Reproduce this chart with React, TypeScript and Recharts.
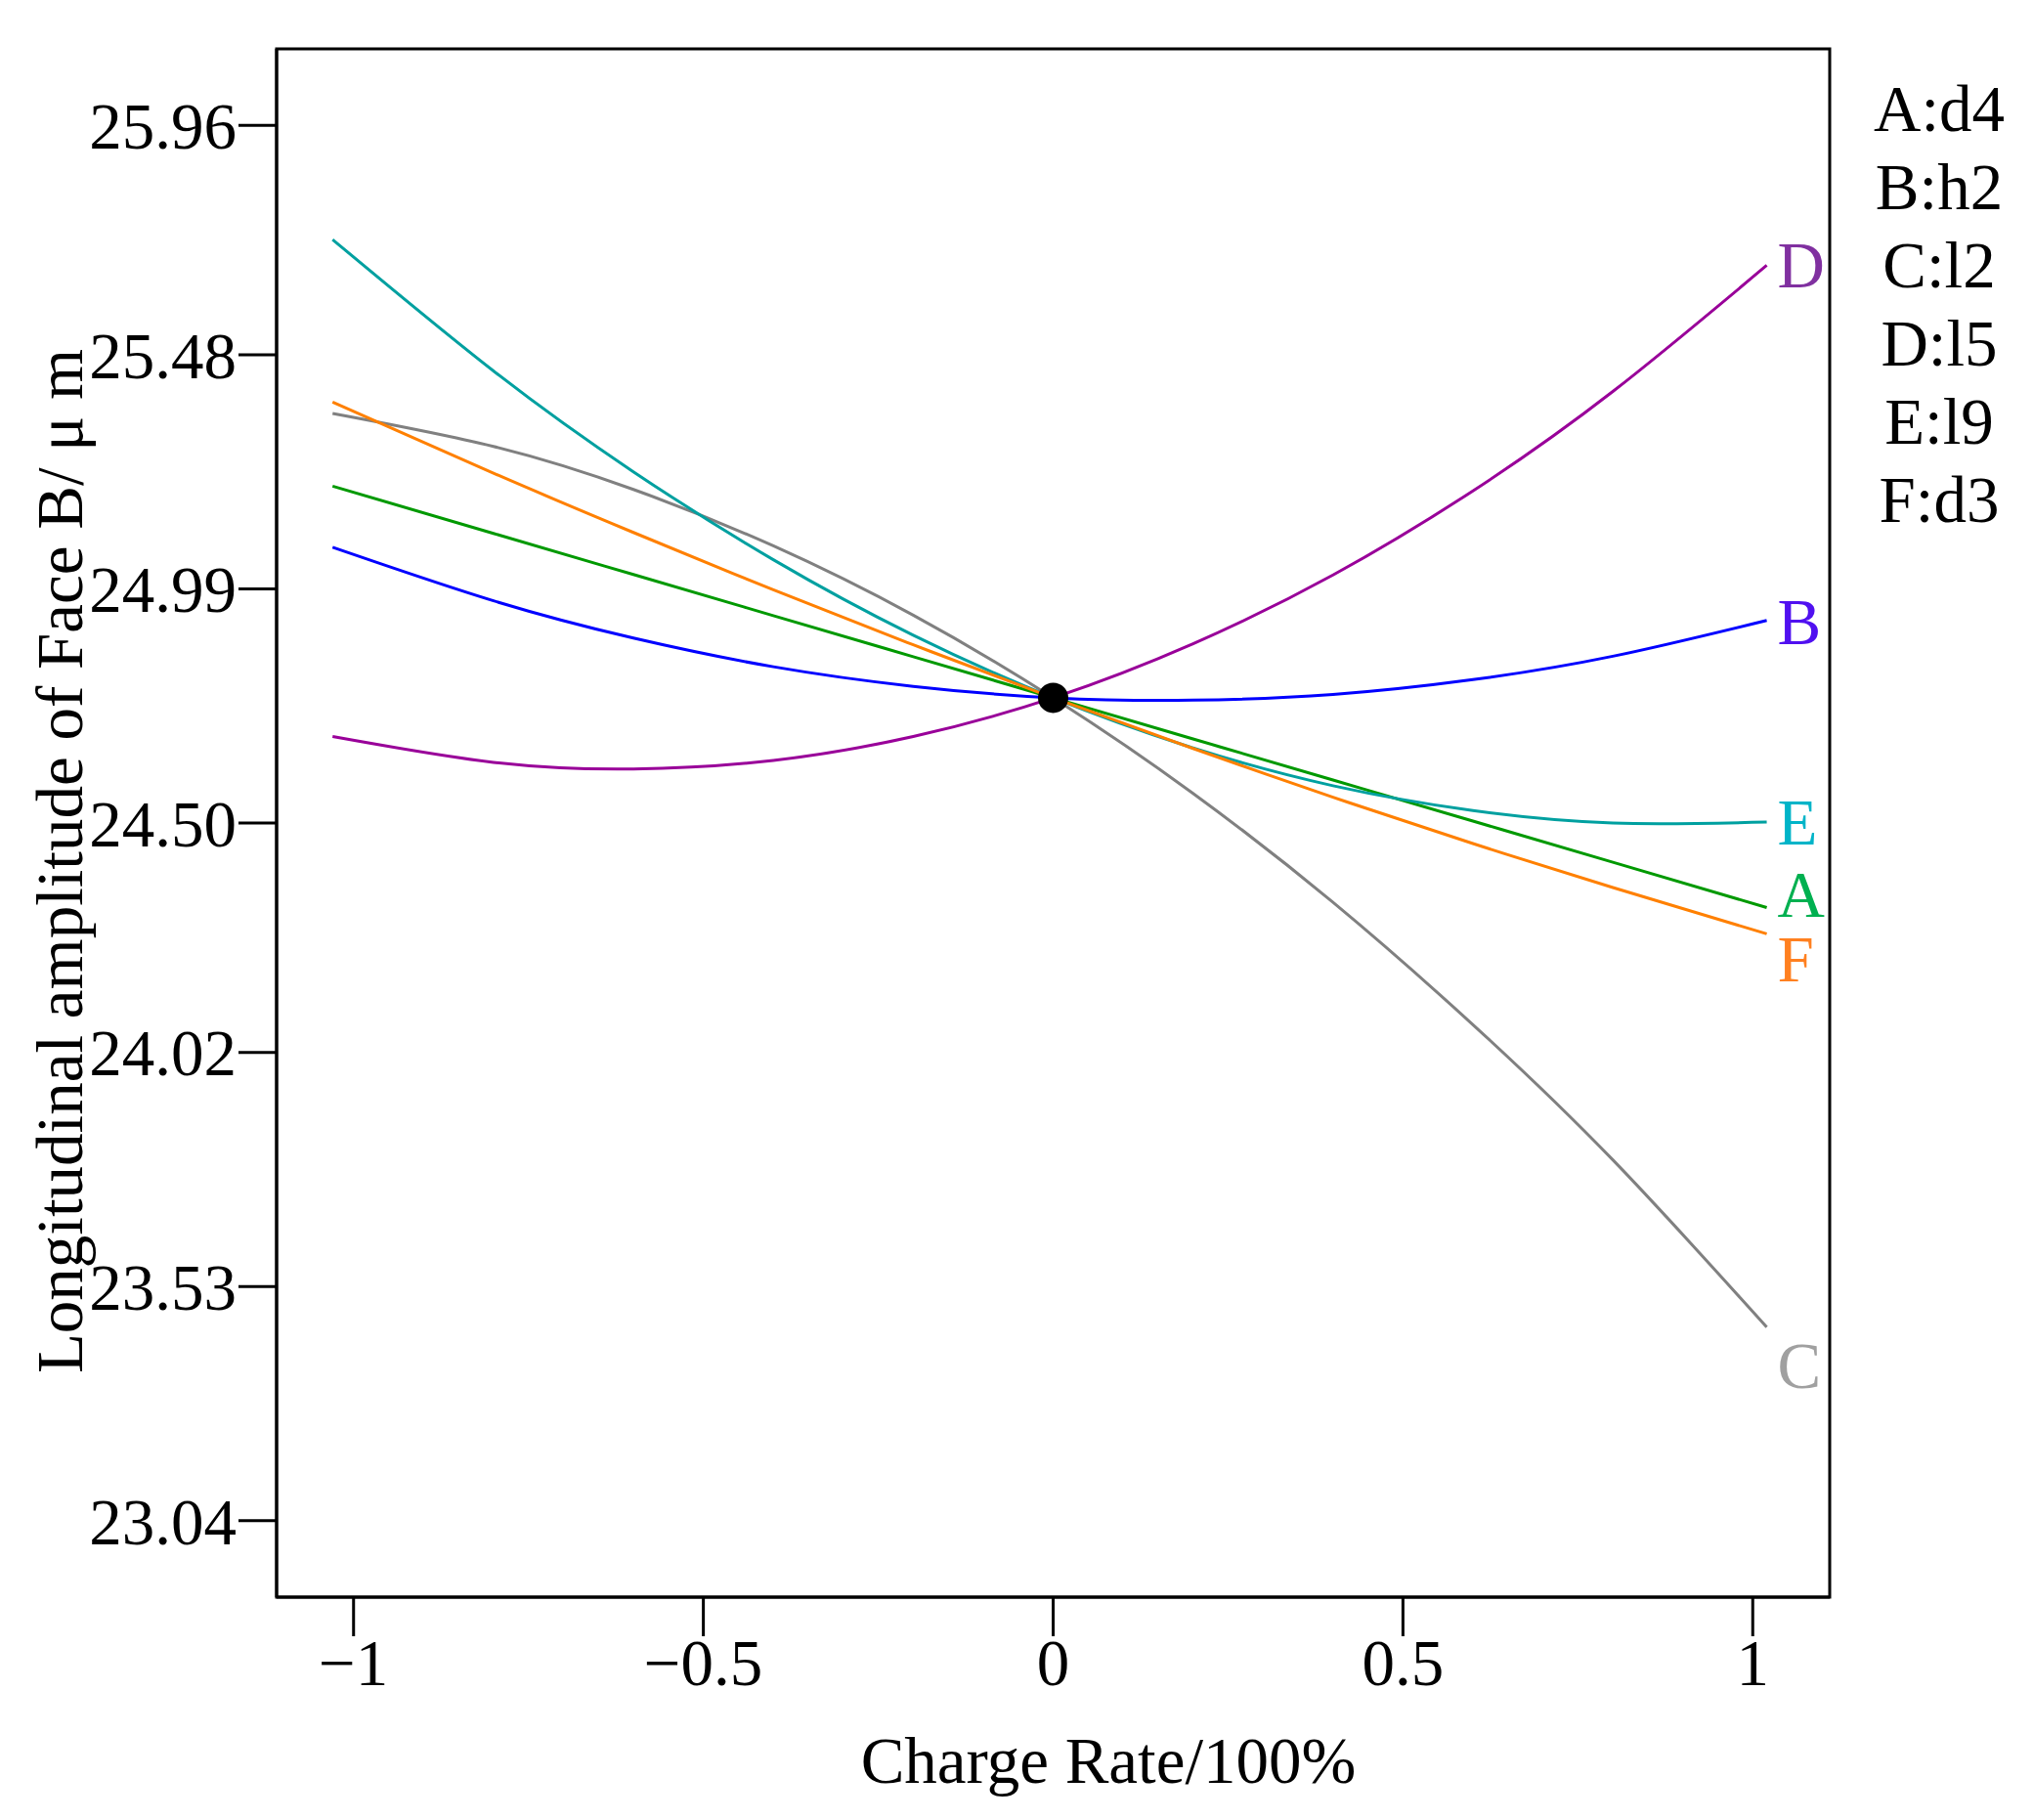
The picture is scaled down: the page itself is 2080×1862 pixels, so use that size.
import React from 'react';
import {
  LineChart,
  Line,
  XAxis,
  YAxis,
  ReferenceDot,
  ReferenceArea,
  Customized,
} from 'recharts';

const FONT = '"Liberation Serif", "Times New Roman", serif';
const FS = 67;

// x positions along the curves (coded charge rate)
const chargeRate = [-1.03, -0.8, -0.6, -0.4, -0.2, 0, 0.2, 0.4, 0.6, 0.8, 1.02];

// longitudinal amplitude
const seriesA = [25.205, 25.106, 25.02, 24.934, 24.848, 24.762, 24.676, 24.59, 24.504, 24.418, 24.323];
const seriesB = [25.077, 24.965, 24.887, 24.827, 24.786, 24.762, 24.757, 24.769, 24.8, 24.849, 24.924];
const seriesC = [25.357, 25.288, 25.198, 25.08, 24.935, 24.762, 24.562, 24.334, 24.078, 23.795, 23.445];
const seriesD = [24.681, 24.627, 24.613, 24.631, 24.681, 24.762, 24.875, 25.019, 25.195, 25.403, 25.667];
const seriesE = [25.721, 25.446, 25.235, 25.051, 24.893, 24.762, 24.657, 24.578, 24.526, 24.5, 24.502];
const seriesF = [25.381, 25.232, 25.108, 24.988, 24.873, 24.762, 24.656, 24.554, 24.457, 24.365, 24.268];

const xTicks = [-1, -0.5, 0, 0.5, 1];
const xTickLabels = ['\u22121', '\u22120.5', '0', '0.5', '1'];
const yTicks = [23.04, 23.53, 24.02, 24.5, 24.99, 25.48, 25.96];
const yTickLabels = ['23.04', '23.53', '24.02', '24.50', '24.99', '25.48', '25.96'];

const factorNames = ['A:d4', 'B:h2', 'C:l2', 'D:l5', 'E:l9', 'F:d3'];
const centerPoint = { x: 0, y: 24.762 };

const X_DOMAIN: [number, number] = [-1.11, 1.11];
const Y_DOMAIN: [number, number] = [22.88, 26.12];

const series = [
  { key: 'A', values: seriesA, color: '#009900', labelColor: '#00b050', labelDy: -14 },
  { key: 'B', values: seriesB, color: '#0000ff', labelColor: '#5010f0', labelDy: 1 },
  { key: 'C', values: seriesC, color: '#808080', labelColor: '#a0a0a0', labelDy: 39 },
  { key: 'D', values: seriesD, color: '#990099', labelColor: '#8030a0', labelDy: 0 },
  { key: 'E', values: seriesE, color: '#00a0a0', labelColor: '#00b4c8', labelDy: 0 },
  { key: 'F', values: seriesF, color: '#ff8000', labelColor: '#ff8020', labelDy: 26 },
];

const data = chargeRate.map((x, i) => {
  const row: Record<string, number> = { x };
  series.forEach((s) => {
    row[s.key] = s.values[i];
  });
  return row;
});

const endLabel = (s: (typeof series)[number]) => (props: any) => {
  const { x, y, index } = props;
  if (index !== chargeRate.length - 1) return <g />;
  return (
    <text
      x={x + 11}
      y={y + s.labelDy + 23}
      fill={s.labelColor}
      fontSize={FS}
      fontFamily={FONT}
      textAnchor="start"
    >
      {s.key}
    </text>
  );
};

const Texts = () => (
  <g>
    <text x={1134} y={1824} textAnchor="middle" fontSize={FS} fontFamily={FONT} fill="#000">
      Charge Rate/100%
    </text>
    <text
      x={84}
      y={881}
      transform="rotate(-90, 84, 881)"
      textAnchor="middle"
      fontSize={FS}
      fontFamily={FONT}
      fill="#000"
    >
      Longitudinal amplitude of Face B/ μ m
    </text>
    {factorNames.map((name, i) => (
      <text
        key={name}
        x={1984}
        y={134 + i * 80}
        textAnchor="middle"
        fontSize={FS}
        fontFamily={FONT}
        fill="#000"
      >
        {name}
      </text>
    ))}
  </g>
);

export default function App() {
  return (
    <div style={{ position: 'absolute', left: 0, top: 0, background: '#fff' }}>
      <LineChart
        width={2080}
        height={1862}
        data={data}
        margin={{ top: 50, right: 208, bottom: 0, left: 0 }}
      >
        <XAxis
          dataKey="x"
          type="number"
          domain={X_DOMAIN}
          allowDataOverflow
          ticks={xTicks}
          tickFormatter={(v: number) => xTickLabels[xTicks.indexOf(v)]}
          height={228}
          tickSize={40}
          tickMargin={2}
          axisLine={{ stroke: '#000', strokeWidth: 3 }}
          tickLine={{ stroke: '#000', strokeWidth: 3 }}
          tick={{ fill: '#000', fontSize: FS, fontFamily: FONT }}
        />
        <YAxis
          type="number"
          domain={Y_DOMAIN}
          allowDataOverflow
          ticks={yTicks}
          tickFormatter={(v: number) => yTickLabels[yTicks.indexOf(v)]}
          width={283}
          tickSize={39}
          tickMargin={2}
          axisLine={{ stroke: '#000', strokeWidth: 3 }}
          tickLine={{ stroke: '#000', strokeWidth: 3 }}
          tick={{ fill: '#000', fontSize: FS, fontFamily: FONT }}
        />
        <ReferenceArea
          x1={X_DOMAIN[0]}
          x2={X_DOMAIN[1]}
          y1={Y_DOMAIN[0]}
          y2={Y_DOMAIN[1]}
          fill="none"
          stroke="#000"
          strokeWidth={3}
          ifOverflow="visible"
        />
        {series.map((s) => (
          <Line
            key={s.key}
            dataKey={s.key}
            type="natural"
            stroke={s.color}
            strokeWidth={3}
            dot={false}
            activeDot={false}
            isAnimationActive={false}
            label={endLabel(s)}
          />
        ))}
        <ReferenceDot
          x={centerPoint.x}
          y={centerPoint.y}
          r={15.5}
          fill="#000"
          stroke="none"
          ifOverflow="visible"
        />
        <Customized component={Texts} />
      </LineChart>
    </div>
  );
}
